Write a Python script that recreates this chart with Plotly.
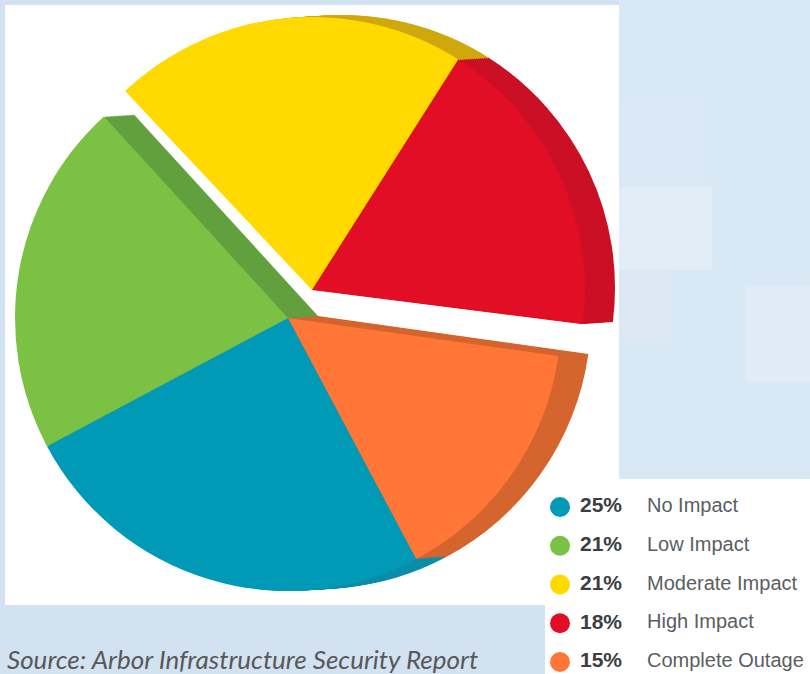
import plotly.graph_objects as go

# Survey shares, in legend order
categories = ["No Impact", "Low Impact", "Moderate Impact", "High Impact", "Complete Outage"]
shares = [25, 21, 21, 18, 15]
top_colors = ["#0099b6", "#7bc143", "#ffd900", "#e10e25", "#ff7636"]
side_colors = ["#0b8ea9", "#62a03e", "#cfa90d", "#cb1026", "#d5652e"]
exploded = ["Moderate Impact", "High Impact"]
source_note = "Source: Arbor Infrastructure Security Report"

W, H = 810, 674
BLUE = "#d3e2f0"
RADIUS = 273
CENTER = (288, 318)          # resting slices
EXPLODED_CENTER = (312, 290) # slices pulled out of the pie
DEPTH = (30, -2)             # full offset of the extruded side
DEPTH_STEPS = 15
REST_ANGLE = 152.0
EXPLODED_ANGLE = 151.2


def pie_layer(center, colors, rotation):
    cx, cy = center
    return go.Pie(
        labels=categories, values=shares, sort=False, direction="clockwise",
        rotation=rotation, textinfo="none", hoverinfo="skip", showlegend=False,
        marker=dict(colors=colors, line=dict(width=0)),
        domain=dict(x=[(cx - RADIUS) / W, (cx + RADIUS) / W],
                    y=[1 - (cy + RADIUS) / H, 1 - (cy - RADIUS) / H]),
    )


def pick(colors, wanted):
    return [c if (n in exploded) == wanted else "rgba(0,0,0,0)"
            for c, n in zip(colors, categories)]


def add_wedge_group(center, wanted, rotation):
    # Sweep the darker sector along the depth offset, then lay the face on top
    for step in range(DEPTH_STEPS, 0, -1):
        f = step / DEPTH_STEPS
        shifted = (center[0] + DEPTH[0] * f, center[1] + DEPTH[1] * f)
        fig.add_trace(pie_layer(shifted, pick(side_colors, wanted), rotation))
    fig.add_trace(pie_layer(center, pick(top_colors, wanted), rotation))


fig = go.Figure()
add_wedge_group(CENTER, False, REST_ANGLE)
add_wedge_group(EXPLODED_CENTER, True, EXPLODED_ANGLE)

# Hand-built legend rows: dot, bold share, label
rows = [507 + i * 38.75 for i in range(len(categories))]
fig.add_trace(go.Scatter(
    x=[560] * len(rows), y=rows, mode="markers", hoverinfo="skip", showlegend=False,
    marker=dict(size=20, color=top_colors, line=dict(width=0)),
))
fig.add_trace(go.Scatter(
    x=[580] * len(rows), y=rows, mode="text", hoverinfo="skip", showlegend=False,
    text=[f"<b>{v}%</b>" for v in shares], textposition="middle right",
    textfont=dict(family="Liberation Sans", size=21, color="#3a3f44"), cliponaxis=False,
))
fig.add_trace(go.Scatter(
    x=[647] * len(rows), y=rows, mode="text", hoverinfo="skip", showlegend=False,
    text=categories, textposition="middle right",
    textfont=dict(family="Liberation Sans", size=20, color="#5a5e62"), cliponaxis=False,
))


def rect(x0, y0, x1, y1, color):
    return dict(type="rect", xref="x", yref="y", x0=x0, y0=y0, x1=x1, y1=y1,
                fillcolor=color, line=dict(width=0), layer="below")


fig.update_layout(
    width=W, height=H, margin=dict(l=0, r=0, t=0, b=0),
    paper_bgcolor=BLUE, plot_bgcolor=BLUE,
    xaxis=dict(range=[0, W], visible=False, fixedrange=True),
    yaxis=dict(range=[H, 0], visible=False, fixedrange=True),
    shapes=[
        rect(619, 0, W, 479, "#d9e8f5"),
        rect(619, 100, 702, 187, "#daE9f5"),
        rect(619, 187, 712, 270, "#e1edf7"),
        rect(619, 270, 670, 343, "#dce9f5"),
        rect(745, 287, W, 383, "#dfebf6"),
        rect(5, 5, 619, 605, "#ffffff"),
        rect(545, 479, W, H, "#ffffff"),
    ],
    annotations=[dict(
        x=5, y=659, xref="x", yref="y", xanchor="left", yanchor="middle",
        text=f"<i>{source_note}</i>", showarrow=False,
        font=dict(family="Lato", size=26, color="#58585a"),
    )],
)

fig.write_html("out.html")
